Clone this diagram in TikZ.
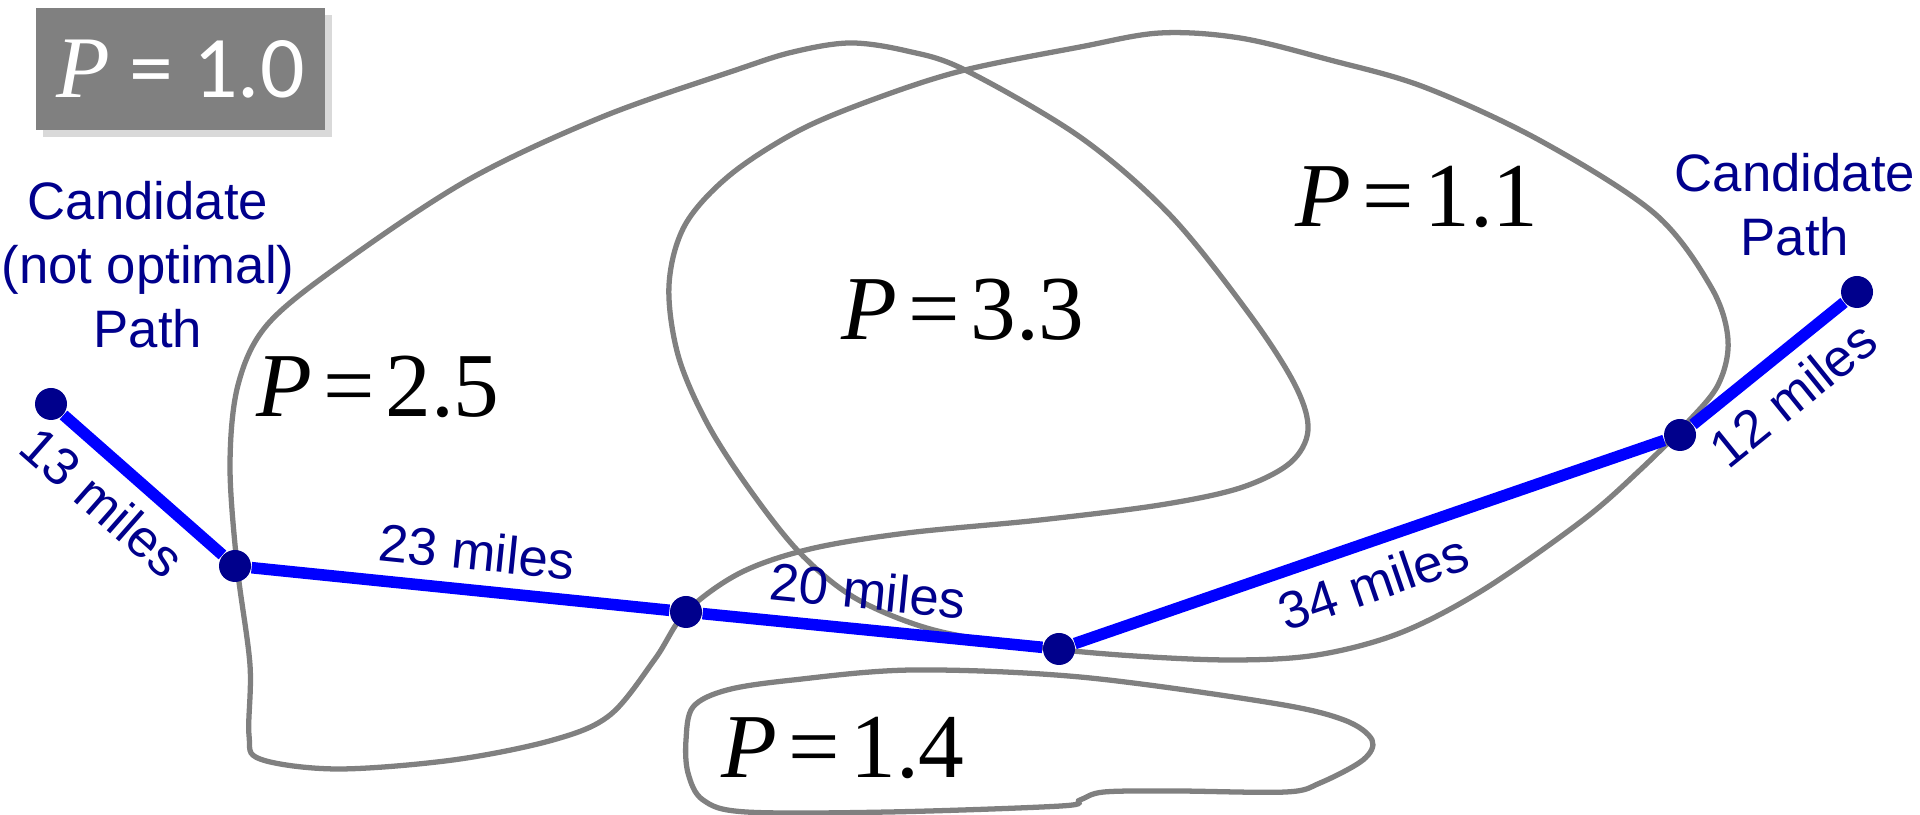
\documentclass[tikz,border=0pt]{standalone}
\usepackage{fontspec}
\setmainfont{Liberation Serif}
\newfontfamily\arialfont{Liberation Sans}
\newfontfamily\calibrifont{Carlito}
\usetikzlibrary{shadows}
\definecolor{navy}{RGB}{0,0,140}
\definecolor{region}{RGB}{128,128,128}
\newcommand{\pv}[1]{\textit{P}\hspace{.12em}=\hspace{.12em}#1}

\begin{document}
\begin{tikzpicture}[
  border/.style={region, line width=1.5pt},
  route/.style={blue, line width=3.3pt},
  stop/.style={circle, fill=navy, inner sep=0pt, minimum size=3.2mm},
  miles/.style={sloped, text=navy, inner sep=4pt, font=\arialfont\fontsize{15}{18}\selectfont},
  cand/.style={text=navy, align=center, inner sep=0pt, anchor=north, font=\arialfont\fontsize{15}{18.2}\selectfont},
  plabel/.style={inner sep=0pt, font=\fontsize{26}{30}\selectfont}
]
  \useasboundingbox (0,0) rectangle (19.2,8.15);

  % Zonen
  \draw[border] plot[smooth cycle, tension=0.55] coordinates {
    (6.86,2.03) (7.40,2.42) (8.10,2.66) (9.07,2.82) (10.40,2.95) (11.60,3.10)
    (12.40,3.27) (12.90,3.52) (13.08,3.85) (12.95,4.30) (12.50,5.00) (11.70,6.00)
    (10.80,6.78) (9.65,7.45) (9.07,7.64) (8.50,7.72) (7.93,7.63) (7.36,7.45)
    (6.02,6.98) (4.68,6.35) (3.40,5.50) (2.67,4.90) (2.38,4.30) (2.30,3.50)
    (2.37,2.50) (2.50,1.50) (2.49,0.80) (2.60,0.56) (3.37,0.46) (4.53,0.55)
    (5.53,0.75) (6.10,1.00) (6.55,1.56)};
  \draw[border] plot[smooth cycle, tension=0.55] coordinates {
    (10.80,7.68) (11.60,7.82) (12.40,7.77) (13.30,7.55) (14.24,7.28) (15.39,6.75)
    (16.54,6.02) (17.11,5.28) (17.28,4.75) (17.18,4.30) (16.85,3.90) (16.40,3.45)
    (15.83,2.95) (14.83,2.25) (14.00,1.82) (13.17,1.60) (12.30,1.55) (11.20,1.60)
    (10.20,1.70) (9.30,1.86) (8.55,2.17) (8.00,2.62) (7.50,3.25) (7.07,3.92)
    (6.78,4.60) (6.69,5.30) (6.85,5.90) (7.30,6.40) (8.00,6.85) (8.80,7.18)
    (9.65,7.45)};
  \draw[border] plot[smooth cycle, tension=0.55] coordinates {
    (6.93,1.08) (7.27,1.25) (7.93,1.35) (9.13,1.45) (10.80,1.38) (12.72,1.12)
    (13.44,0.95) (13.72,0.75) (13.63,0.55) (13.20,0.32) (12.86,0.23) (11.76,0.24)
    (11.04,0.23) (10.80,0.15) (10.61,0.09) (8.89,0.03) (7.46,0.03) (7.03,0.15)
    (6.88,0.42) (6.86,0.75)};

  % Werte
  \node[fill=region, minimum width=2.89cm, minimum height=1.22cm, text=white,
        drop shadow={shadow xshift=0.7mm, shadow yshift=-0.7mm, opacity=0.3},
        font=\calibrifont\fontsize{25}{30}\selectfont] (p10) at (1.805,7.46)
        {{\rmfamily\itshape P} = 1.0};
  \node[plabel] (p25) at (3.78,4.28) {\pv{2.5}};
  \node[plabel] (p33) at (9.63,5.05) {\pv{3.3}};
  \node[plabel] (p11) at (14.17,6.18) {\pv{1.1}};
  \node[plabel] (p14) at (8.43,0.67) {\pv{1.4}};

  % Pfad
  \node[stop] (a) at (0.51,4.11) {};
  \node[stop] (b) at (2.35,2.49) {};
  \node[stop] (c) at (6.86,2.03) {};
  \node[stop] (d) at (10.59,1.66) {};
  \node[stop] (e) at (16.80,3.80) {};
  \node[stop] (f) at (18.57,5.23) {};

  \draw[route] (a) -- (b) node[miles, pos=0.41, below] {13 miles};
  \draw[route] (b) -- (c) node[miles, pos=0.53, above] {23 miles};
  \draw[route] (c) -- (d) node[miles, pos=0.475, above] {20 miles};
  \draw[route] (d) -- (e) node[miles, pos=0.485, below] {34 miles};
  \draw[route] (e) -- (f) node[miles, pos=0.5, below] {12 miles};

  \node[cand] (cleft) at (1.48,6.34) {Candidate\\(not optimal)\\Path};
  \node[cand] (cright) at (17.95,6.62) {Candidate\\Path};
\end{tikzpicture}
\end{document}
